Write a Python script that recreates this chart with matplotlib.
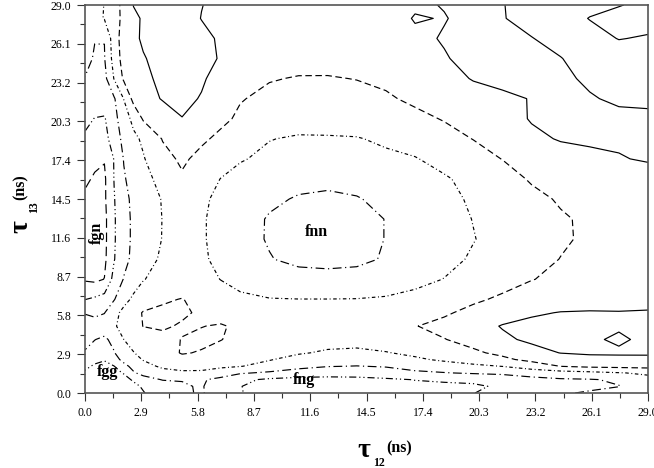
import matplotlib
matplotlib.use('Agg')
import matplotlib.pyplot as plt
import numpy as np

plt.rcParams['font.family'] = ['Liberation Serif', 'DejaVu Serif']

# ---------------- data ----------------
x_nodes = [0, 0.5, 1.0, 1.5, 2.0, 2.5, 3.0, 4.0, 5.0, 6.0, 7.0, 8.0, 9.5, 11, 12.5,
           14, 15.5, 17, 18.5, 20, 21.5, 23, 24.5, 26, 27.5, 29]
y_nodes = [0, 0.5, 1.0, 1.5, 2.0, 2.5, 3.0, 4.0, 5.0, 6.0, 7.0, 8.5, 10, 11.5, 13,
           14.5, 16, 17.5, 19, 20.5, 22, 23.5, 25, 26.5, 28, 29]

z_rows = [
    [5.6, 5.85, 5.85, 5.6, 5.4, 5.2, 5.05, 4.5, 4.15, 3.9, 4.6, 4.96, 5.35, 5.5, 5.5, 5.45, 5.3, 5.15, 5.08, 5.01, 4.85, 4.45, 4.1, 3.9, 3.7, 3.5],
    [5.8, 5.9, 5.9, 5.8, 5.5, 5.2, 4.9, 4.5, 4.12, 3.9, 4.7, 4.97, 5.45, 5.6, 5.6, 5.55, 5.4, 5.25, 5.15, 5.08, 4.92, 4.55, 4.25, 4.2, 4.02, 3.6],
    [5.6, 5.85, 5.85, 5.6, 5.25, 4.9, 4.4, 3.95, 3.95, 3.92, 4.2, 4.8, 5.15, 5.3, 5.35, 5.3, 5.15, 4.97, 4.9, 4.88, 4.8, 4.3, 4.1, 4.05, 3.9, 3.3],
    [5.1, 5.5, 5.5, 5.2, 4.95, 4.1, 3.7, 3.3, 3.15, 3.2, 3.6, 3.9, 4.15, 4.4, 4.5, 4.5, 4.35, 4.15, 4.04, 3.9, 3.75, 3.55, 3.4, 3.25, 3.05, 2.85],
    [4.85, 5.1, 5.2, 5.02, 4.3, 3.7, 3.3, 2.85, 2.7, 2.65, 2.8, 2.97, 3.3, 3.75, 3.97, 4.02, 3.95, 3.7, 3.45, 3.2, 2.98, 2.55, 1.98, 1.8, 1.75, 1.7],
    [4.5, 4.8, 4.95, 4.4, 3.7, 3.3, 2.95, 2.45, 2.2, 2.2, 2.35, 2.6, 2.95, 3.3, 3.6, 3.65, 3.4, 3.15, 2.85, 2.55, 2.2, 1.75, 1.45, 1.3, 1.2, 1.15],
    [4.1, 4.35, 4.4, 4.05, 3.4, 3.03, 2.75, 2.3, 1.95, 2.05, 2.25, 2.45, 2.7, 2.92, 3.12, 3.2, 3.05, 2.8, 2.5, 2.15, 1.8, 1.3, 0.98, 0.88, 0.9, 0.92],
    [3.65, 3.98, 4.15, 3.75, 3.0, 2.7, 2.5, 2.2, 1.98, 1.85, 1.98, 2.2, 2.4, 2.55, 2.65, 2.65, 2.5, 2.25, 2.03, 1.7, 1.15, 0.85, 0.75, 0.9, 1.1, 0.85],
    [3.6, 3.7, 3.55, 3.1, 2.7, 2.35, 1.98, 1.9, 2.08, 2.02, 1.93, 2.15, 2.4, 2.55, 2.6, 2.55, 2.4, 2.03, 1.75, 1.35, 0.95, 0.8, 0.7, 0.75, 0.92, 0.8],
    [4.05, 4.15, 4.03, 3.35, 2.7, 2.25, 1.95, 1.85, 1.88, 2.12, 2.35, 2.55, 2.75, 2.85, 2.9, 2.85, 2.7, 2.4, 2.12, 1.75, 1.4, 1.1, 0.97, 0.95, 0.97, 0.95],
    [5.02, 4.85, 4.6, 4.05, 3.35, 2.8, 2.4, 2.1, 1.97, 2.25, 2.6, 2.85, 2.97, 2.99, 2.99, 2.98, 2.92, 2.75, 2.45, 2.15, 1.85, 1.55, 1.4, 1.3, 1.25, 1.2],
    [6.1, 6.2, 5.98, 4.65, 3.95, 3.5, 3.05, 2.6, 2.5, 2.7, 3.02, 3.25, 3.45, 3.6, 3.62, 3.58, 3.45, 3.25, 2.98, 2.6, 2.35, 2.03, 1.8, 1.6, 1.5, 1.45],
    [6.3, 6.45, 6.2, 5.05, 4.25, 3.8, 3.4, 2.85, 2.65, 2.85, 3.25, 3.6, 3.95, 4.25, 4.35, 4.25, 3.9, 3.6, 3.25, 2.9, 2.6, 2.3, 1.98, 1.75, 1.6, 1.5],
    [6.35, 6.5, 6.25, 5.1, 4.3, 3.85, 3.5, 2.97, 2.7, 2.9, 3.3, 3.65, 4.08, 4.4, 4.5, 4.4, 3.97, 3.65, 3.35, 3.03, 2.72, 2.4, 2.12, 1.85, 1.65, 1.55],
    [6.3, 6.45, 6.25, 5.1, 4.3, 3.85, 3.5, 2.98, 2.72, 2.9, 3.3, 3.65, 4.07, 4.4, 4.5, 4.4, 3.97, 3.6, 3.3, 2.98, 2.7, 2.38, 2.1, 1.85, 1.65, 1.55],
    [6.15, 6.35, 6.15, 5.05, 4.25, 3.8, 3.45, 2.95, 2.7, 2.85, 3.2, 3.5, 3.85, 4.07, 4.15, 4.05, 3.8, 3.5, 3.2, 2.9, 2.6, 2.25, 1.9, 1.7, 1.55, 1.5],
    [5.85, 6.1, 6.15, 4.97, 4.1, 3.6, 3.25, 2.75, 2.12, 2.6, 3.02, 3.3, 3.6, 3.75, 3.8, 3.72, 3.55, 3.3, 3.1, 2.72, 2.4, 1.9, 1.6, 1.45, 1.4, 1.38],
    [5.3, 5.8, 5.95, 4.95, 3.95, 3.4, 3.07, 2.3, 1.85, 2.25, 2.6, 2.93, 3.2, 3.35, 3.38, 3.3, 3.18, 3.05, 2.7, 2.35, 1.98, 1.55, 1.3, 1.15, 1.05, 0.92],
    [5.15, 5.35, 5.35, 4.5, 3.75, 3.2, 2.85, 1.95, 1.7, 1.85, 2.2, 2.5, 2.97, 3.1, 3.08, 3.05, 2.85, 2.6, 2.3, 1.98, 1.6, 1.15, 0.95, 0.9, 0.88, 0.85],
    [4.75, 5.03, 5.08, 4.3, 3.45, 2.75, 1.9, 1.4, 1.02, 1.3, 1.8, 2.15, 2.45, 2.6, 2.62, 2.55, 2.4, 2.2, 1.95, 1.65, 1.3, 0.95, 0.85, 0.8, 0.85, 0.9],
    [4.2, 4.45, 4.5, 4.1, 2.97, 1.7, 1.3, 0.95, 0.8, 1.05, 1.5, 1.95, 2.2, 2.3, 2.32, 2.25, 2.1, 1.85, 1.6, 1.35, 1.15, 0.97, 0.85, 0.95, 1.1, 1.1],
    [4.03, 4.25, 4.3, 2.95, 1.85, 1.4, 1.15, 0.85, 0.7, 0.9, 1.3, 1.65, 1.95, 2.05, 2.05, 1.98, 1.85, 1.6, 1.3, 0.95, 0.8, 0.78, 0.88, 1.1, 1.2, 1.2],
    [3.75, 4.08, 4.05, 2.6, 1.6, 1.25, 1.05, 0.75, 0.65, 0.8, 1.05, 1.3, 1.55, 1.7, 1.72, 1.65, 1.5, 1.3, 1.05, 0.8, 0.7, 0.75, 0.98, 1.25, 1.3, 1.3],
    [3.6, 3.97, 3.98, 2.45, 1.55, 1.15, 0.9, 0.65, 0.6, 0.8, 1.1, 1.3, 1.45, 1.55, 1.55, 1.5, 1.4, 1.15, 0.95, 0.85, 0.92, 0.98, 1.2, 1.2, 0.98, 1.05],
    [3.5, 3.3, 2.95, 2.4, 1.75, 1.2, 0.9, 0.7, 0.65, 1.02, 1.25, 1.4, 1.5, 1.55, 1.55, 1.5, 1.35, 0.95, 1.03, 0.82, 0.97, 1.2, 1.25, 0.98, 0.8, 0.8],
    [3.45, 3.25, 2.98, 2.35, 1.75, 0.97, 0.85, 0.7, 0.7, 0.98, 1.2, 1.35, 1.45, 1.5, 1.5, 1.45, 1.3, 1.1, 0.97, 0.85, 0.98, 1.2, 1.25, 1.15, 1.03, 0.85],
]

levels = [1, 2, 3, 4, 5, 6]

tick_values = [0.0, 2.9, 5.8, 8.7, 11.6, 14.5, 17.4, 20.3, 23.2, 26.1, 29.0]
tick_labels = ['0.0', '2.9', '5.8', '8.7', '11.6', '14.5', '17.4', '20.3', '23.2', '26.1', '29.0']
minor_values = [1.45, 4.35, 7.25, 10.15, 13.05, 15.95, 18.85, 21.75, 24.65, 27.55]

region_labels = ['fnn', 'fng', 'fgg', 'fgn']
label_x = [11.9, 11.3, 1.15, 0.6]
label_y = [12.0, 0.95, 1.6, 12.0]
label_rot = [0, 0, 0, 90]

# ---------------- drawing ----------------
W, H = 654, 468
fig = plt.figure(figsize=(W / 100, H / 100), dpi=100)
ax = fig.add_axes([85 / W, 1 - 393 / H, (648 - 85) / W, (393 - 5) / H])

styles = ['solid', (0, (5.5, 3.0)), (0, (3.0, 2.2, 0.8, 2.2)), (0, (7.5, 3.0, 1.0, 3.0)),
          (0, (6.0, 2.5, 1.0, 2.5, 1.0, 2.5)), (0, (8.0, 4.0))]

X, Y = np.meshgrid(np.array(x_nodes), np.array(y_nodes))
Z = np.array(z_rows)
ax.contour(X, Y, Z, levels=levels, colors='black', linewidths=0.85, linestyles=styles)

for txt, lx, ly, rot in zip(region_labels, label_x, label_y, label_rot):
    ax.text(lx, ly, txt, fontsize=11.5, fontweight='bold', ha='center', va='center',
            rotation=rot)

ax.set_xlim(0, 29)
ax.set_ylim(0, 29)
ax.set_xticks(tick_values)
ax.set_xticklabels(tick_labels)
ax.set_yticks(tick_values)
ax.set_yticklabels(tick_labels)
ax.set_xticks(minor_values, minor=True)
ax.set_yticks(minor_values, minor=True)
ax.tick_params(which='major', direction='out', length=6, width=0.8, labelsize=8.5, pad=4,
               colors='#333333', labelcolor='black')
ax.tick_params(which='minor', direction='out', length=3.5, width=0.8, colors='#333333')
for sp in ax.spines.values():
    sp.set_linewidth(1.2)
    sp.set_color('#555555')

# axis titles
fig.text(357 / W, 1 - 457 / H, 'τ', fontsize=20, fontweight='bold', ha='left', va='baseline')
fig.text(373 / W, 1 - 466 / H, '12', fontsize=8.5, fontweight='bold', ha='left', va='baseline')
fig.text(386 / W, 1 - 452 / H, '(ns)', fontsize=11.5, fontweight='bold', ha='left', va='baseline')

fig.text(27 / W, 1 - 233 / H, 'τ', fontsize=20, fontweight='bold', rotation=90,
         rotation_mode='anchor', ha='left', va='baseline')
fig.text(37 / W, 1 - 213 / H, '13', fontsize=8.5, fontweight='bold', rotation=90,
         rotation_mode='anchor', ha='left', va='baseline')
fig.text(25 / W, 1 - 200 / H, '(ns)', fontsize=11.5, fontweight='bold', rotation=90,
         rotation_mode='anchor', ha='left', va='baseline')

fig.savefig('out.png', dpi=100)
